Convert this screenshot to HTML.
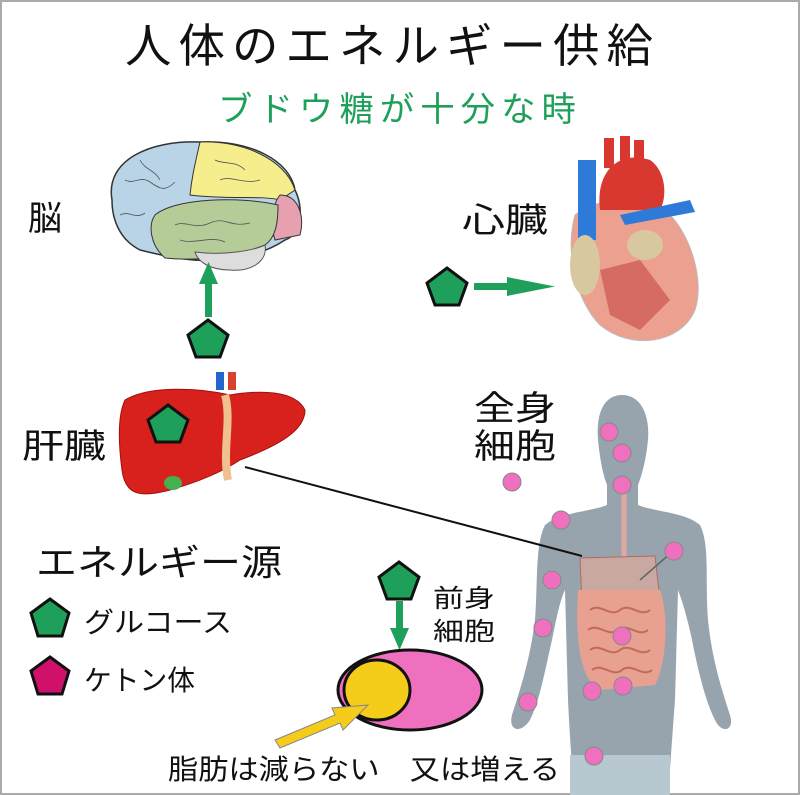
<!DOCTYPE html>
<html><head><meta charset="utf-8"><style>
html,body{margin:0;padding:0;background:#fff}
svg{display:block}
text{font-family:"Liberation Sans","Noto Sans CJK JP",sans-serif;fill:#111}
</style></head><body>
<svg width="800" height="795" viewBox="0 0 800 795" xmlns="http://www.w3.org/2000/svg">
<rect x="1" y="1" width="798" height="793" fill="#fff" stroke="#aaa" stroke-width="2"/>
<text x="125" y="62" font-size="46" letter-spacing="7" textLength="535" lengthAdjust="spacingAndGlyphs">人体のエネルギー供給</text>
<text x="218" y="121" font-size="34" letter-spacing="6" style="fill:#1fa05a" textLength="364" lengthAdjust="spacingAndGlyphs">ブドウ糖が十分な時</text>

<!-- body silhouette -->
<path d="M622 395 C603 395 596 415 598 440 C600 460 603 475 607 485 L607 505 C590 512 560 512 545 525 C535 545 538 580 535 620 C530 660 520 690 512 715 C508 730 520 735 530 720 C540 700 545 670 552 640 C556 620 560 600 565 590 L568 700 C570 740 572 770 575 795 L668 795 C670 770 672 740 675 700 L678 590 C682 600 688 620 692 640 C698 670 705 700 715 720 C722 735 735 730 730 715 C722 690 712 660 708 620 C705 580 710 545 700 525 C685 512 655 512 638 505 L638 485 C642 475 646 460 648 440 C650 415 641 395 622 395 Z" fill="#97a4ae"/>
<rect x="570" y="755" width="100" height="40" fill="#b7c8d0"/>
<line x1="624" y1="490" x2="624" y2="560" stroke="#e0a8a0" stroke-width="5"/>
<path d="M580 558 L655 556 L660 600 L625 612 L582 605 Z" fill="#c8a8a0" stroke="#b06a60"/>
<path d="M578 590 C575 640 580 680 600 690 L655 685 C668 660 668 610 660 590 Z" fill="#e8a090"/>
<path d="M590 610 c10 -8 20 8 30 0 s20 8 30 0 M588 630 c10 -8 20 8 30 0 s20 8 30 0 M590 650 c10 -8 20 8 30 0 s20 8 30 0 M592 670 c10 -8 20 8 30 0 s20 8 30 0" stroke="#c06a5a" fill="none" stroke-width="2"/>
<line x1="640" y1="580" x2="672" y2="552" stroke="#666" stroke-width="1.5"/>

<!-- pink dots -->
<g fill="#f070c0" stroke="#888" stroke-width="1">
<circle cx="609" cy="432" r="9"/><circle cx="622" cy="453" r="9"/><circle cx="622" cy="485" r="9"/>
<circle cx="512" cy="482" r="9"/><circle cx="561" cy="520" r="9"/><circle cx="674" cy="551" r="9"/>
<circle cx="552" cy="580" r="9"/><circle cx="543" cy="628" r="9"/><circle cx="622" cy="636" r="9"/>
<circle cx="528" cy="702" r="9"/><circle cx="592" cy="691" r="9"/><circle cx="623" cy="686" r="9"/>
<circle cx="594" cy="756" r="9"/>
</g>

<line x1="245" y1="467" x2="582" y2="556" stroke="#111" stroke-width="2"/>

<!-- brain -->
<path d="M112 200 C105 160 150 140 200 142 C250 140 290 160 295 190 C305 210 300 235 285 240 C270 250 240 262 210 260 C190 262 160 255 140 250 C120 240 112 220 112 200Z" fill="#b8d4e6" stroke="#333" stroke-width="1.5"/>
<path d="M200 142 C240 140 285 158 295 190 L280 200 C260 195 230 200 190 195 C192 175 196 160 200 142Z" fill="#f6ee8c" stroke="#333" stroke-width="1"/>
<path d="M280 195 C298 195 305 215 300 235 L275 240 C270 225 272 205 280 195Z" fill="#e6a0b0" stroke="#333" stroke-width="1"/>
<path d="M155 215 C175 198 240 196 278 205 C278 225 275 238 265 245 C240 255 200 262 165 258 C150 245 148 225 155 215Z" fill="#b6cc98" stroke="#333" stroke-width="1"/>
<path d="M195 252 C225 256 255 250 265 245 C268 262 250 272 230 270 C210 270 198 262 195 252Z" fill="#ddd" stroke="#555" stroke-width="1"/>
<g stroke="#555" stroke-width="0.8" fill="none">
<path d="M125 180 c10 5 15 -5 25 2 s15 10 25 0 M120 215 c10 -5 15 5 25 -2 M140 160 c5 10 15 10 20 20 M215 160 c10 5 20 0 30 10 M220 180 c10 -5 25 5 40 0 M175 225 c10 -5 20 5 35 -2 s20 5 40 0 M180 240 c15 5 30 -5 45 2"/>
</g>

<!-- heart -->
<path d="M575 215 C565 250 575 300 600 325 C630 350 680 345 695 310 C705 280 690 235 670 215 C650 195 600 195 575 215Z" fill="#eca090" stroke="#bbb"/>
<path d="M600 210 C595 170 620 150 650 160 C665 170 668 195 660 210 Z" fill="#d83830"/>
<rect x="578" y="160" width="18" height="80" fill="#2e7ad8"/>
<path d="M620 215 L690 200 L695 212 L625 225 Z" fill="#2e7ad8"/>
<rect x="604" y="138" width="10" height="30" fill="#d83830"/><rect x="620" y="136" width="10" height="30" fill="#d83830"/><rect x="634" y="140" width="10" height="30" fill="#d83830"/>
<ellipse cx="585" cy="265" rx="15" ry="30" fill="#d8c8a0"/>
<ellipse cx="645" cy="245" rx="18" ry="15" fill="#d8c8a0"/>
<path d="M600 270 L640 260 L670 300 L640 330 L610 315 Z" fill="#c84848" opacity="0.6"/>

<!-- liver -->
<path d="M125 400 C150 385 200 388 230 395 C260 390 295 390 305 410 C305 430 280 445 240 460 C225 470 205 480 170 490 C140 498 125 495 122 470 C118 440 118 415 125 400Z" fill="#d8201c" stroke="#a01010"/>
<path d="M225 395 C232 420 222 450 228 480" stroke="#f0c090" stroke-width="8" fill="none"/>
<rect x="216" y="372" width="8" height="18" fill="#2266cc"/><rect x="228" y="372" width="8" height="18" fill="#d84030"/>
<ellipse cx="173" cy="483" rx="9" ry="7" fill="#44b050"/>

<!-- arrows -->
<g fill="#1fa05a">
<rect x="205" y="282" width="7" height="35"/><polygon points="199,284 218,284 208.5,262"/>
<rect x="474" y="283" width="35" height="7"/><polygon points="507,277 507,296 555,286.5"/>
<rect x="396" y="601" width="7" height="30"/><polygon points="390,628 409,628 399.5,650"/>
</g>

<!-- pentagons -->
<g stroke="#111" stroke-width="3" fill="#1fa05a">
<polygon points="208,320 228,335 220,357 196,357 188,335"/>
<polygon points="447,268 467,283 459,305 435,305 427,283"/>
<polygon points="168,405 188,420 180,442 156,442 148,420"/>
<polygon points="399,562 419,577 411,599 387,599 379,577"/>
<polygon points="50,599 69,613 62,636 38,636 31,613"/>
<polygon fill="#d0106a" points="50,657 69,671 62,694 38,694 31,671"/>
</g>

<!-- fat cell -->
<ellipse cx="410" cy="690" rx="72" ry="40" fill="#f070c0" stroke="#111" stroke-width="3"/>
<ellipse cx="377" cy="690" rx="33" ry="30" fill="#f5cc1a" stroke="#111" stroke-width="3"/>
<polygon points="275,740 335,715 332,708 368,705 343,730 340,723 280,748" fill="#f5cc1a" stroke="#888"/>

<!-- labels -->
<text x="28" y="230" font-size="34">脳</text>
<text x="462" y="232" font-size="34" textLength="86" lengthAdjust="spacingAndGlyphs">心臓</text>
<text x="22" y="458" font-size="34" textLength="84" lengthAdjust="spacingAndGlyphs">肝臓</text>
<text x="474" y="420" font-size="34" textLength="82" lengthAdjust="spacingAndGlyphs">全身</text>
<text x="474" y="458" font-size="34" textLength="82" lengthAdjust="spacingAndGlyphs">細胞</text>
<text x="36" y="575" font-size="36" textLength="246" lengthAdjust="spacingAndGlyphs">エネルギー源</text>
<text x="84" y="632" font-size="28" textLength="148" lengthAdjust="spacingAndGlyphs">グルコース</text>
<text x="84" y="690" font-size="28" textLength="111" lengthAdjust="spacingAndGlyphs">ケトン体</text>
<text x="433" y="607" font-size="25" textLength="62" lengthAdjust="spacingAndGlyphs">前身</text>
<text x="433" y="640" font-size="25" textLength="62" lengthAdjust="spacingAndGlyphs">細胞</text>
<text x="168" y="779" font-size="28" textLength="392" lengthAdjust="spacingAndGlyphs">脂肪は減らない　又は増える</text>
</svg>
</body></html>
